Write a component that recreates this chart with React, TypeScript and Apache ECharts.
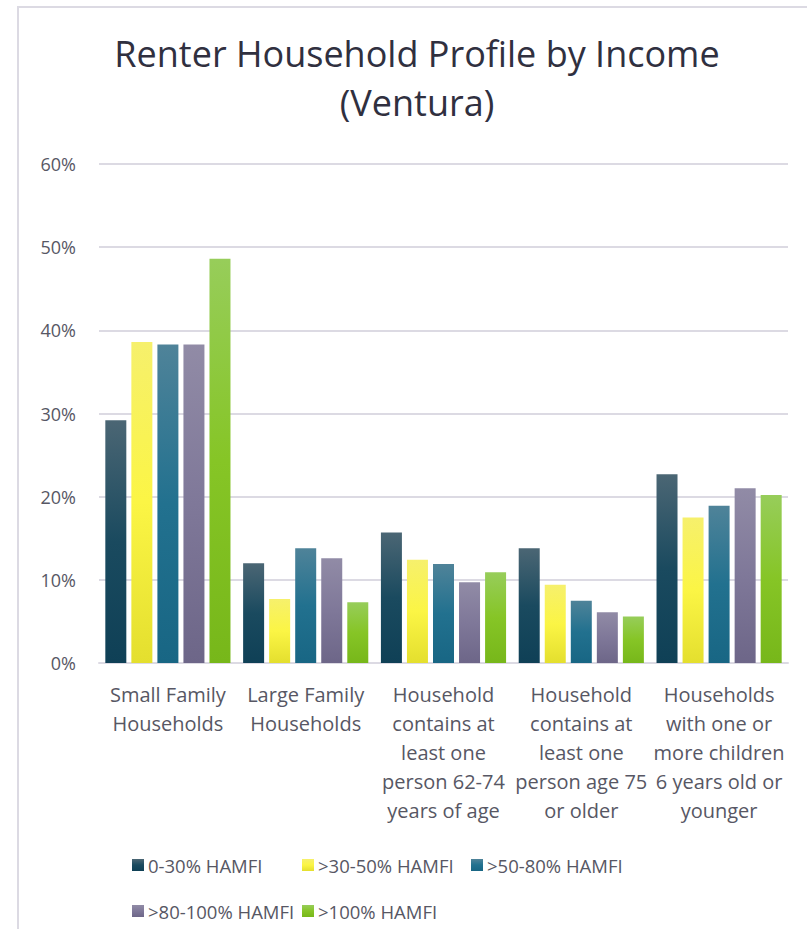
import React, { useEffect, useRef } from "react";
import * as echarts from "echarts";

const categories = [
  "Small Family\nHouseholds",
  "Large Family\nHouseholds",
  "Household\ncontains at\nleast one\nperson 62-74\nyears of age",
  "Household\ncontains at\nleast one\nperson age 75\nor older",
  "Households\nwith one or\nmore children\n6 years old or\nyounger",
];

const seriesNames = ["0-30% HAMFI", ">30-50% HAMFI", ">50-80% HAMFI", ">80-100% HAMFI", ">100% HAMFI"];

const s0_30 = [29.2, 12.0, 15.7, 13.8, 22.7];
const s30_50 = [38.6, 7.7, 12.4, 9.4, 17.5];
const s50_80 = [38.3, 13.8, 11.9, 7.5, 18.9];
const s80_100 = [38.3, 12.6, 9.7, 6.1, 21.0];
const s100 = [48.6, 7.3, 10.9, 5.6, 20.2];

const yTicks = [0, 10, 20, 30, 40, 50, 60];

const seriesValues = [s0_30, s30_50, s50_80, s80_100, s100];

const gradients: [string, string, string][] = [
  ["#4b6674", "#1a4a5f", "#0f4056"],
  ["#f6f06c", "#fbf545", "#e4df2e"],
  ["#4f8399", "#22718f", "#186684"],
  ["#918ba6", "#7f7899", "#6d6688"],
  ["#97cd5a", "#86c526", "#77b71a"],
];

const legendPos = [
  [132, 854],
  [302, 854],
  [471, 854],
  [132, 900],
  [302, 900],
];

const FONT = "'Open Sans', sans-serif";
const TEXT = "#575764";

export default function App() {
  const ref = useRef<HTMLDivElement>(null);
  useEffect(() => {
    if (!ref.current) return;
    const chart = echarts.init(ref.current, undefined, { renderer: "svg" });
    const grad = (c: [string, string, string]) =>
      new echarts.graphic.LinearGradient(0, 0, 0, 1, [
        { offset: 0, color: c[0] },
        { offset: 0.5, color: c[1] },
        { offset: 1, color: c[2] },
      ]);
    chart.setOption({
      animation: false,
      backgroundColor: "#ffffff",
      textStyle: { fontFamily: FONT },
      graphic: [
        {
          type: "text",
          x: 417,
          y: 29,
          style: {
            text: "Renter Household Profile by Income\n(Ventura)",
            font: `36px ${FONT}`,
            fill: "#30303f",
            textAlign: "center",
            textVerticalAlign: "top",
            lineHeight: 49,
          },
        },
        {
          type: "line",
          shape: { x1: 17, y1: 7, x2: 807, y2: 7 },
          style: { stroke: "#dcdae3", lineWidth: 2 },
        },
        {
          type: "line",
          shape: { x1: 18, y1: 6, x2: 18, y2: 929 },
          style: { stroke: "#dcdae3", lineWidth: 2 },
        },
      ],
      legend: seriesNames.map((n, i) => ({
        data: [n],
        left: legendPos[i][0],
        top: legendPos[i][1],
        itemWidth: 12,
        itemHeight: 12,
        itemGap: 0,
        padding: 0,
        icon: "rect",
        textStyle: { fontSize: 18.5, color: TEXT, fontFamily: FONT, lineHeight: 22, padding: [0, 0, 0, -1] },
      })),
      grid: { left: 99, right: 19, top: 164, bottom: 277, containLabel: false },
      xAxis: {
        type: "category",
        data: categories,
        axisLine: { show: true, lineStyle: { color: "#dcdae3", width: 2 } },
        axisTick: { show: false },
        axisLabel: {
          interval: 0,
          margin: 17,
          fontSize: 20,
          lineHeight: 29,
          color: TEXT,
          fontFamily: FONT,
        },
      },
      yAxis: {
        type: "value",
        min: 0,
        max: 60,
        interval: 10,
        axisLine: { show: false },
        axisTick: { show: false },
        splitLine: { lineStyle: { color: "#dcdae3", width: 2 } },
        axisLabel: {
          margin: 23,
          fontSize: 18,
          color: TEXT,
          fontFamily: FONT,
          formatter: (v: number) => (yTicks.includes(v) ? `${v}%` : ""),
        },
      },
      series: seriesNames.map((n, i) => ({
        name: n,
        type: "bar",
        data: seriesValues[i],
        barWidth: 21,
        barGap: "24%",
        itemStyle: { color: grad(gradients[i]) },
      })),
    });
    return () => chart.dispose();
  }, []);
  return <div ref={ref} style={{ position: "fixed", left: 0, top: 0, width: 807, height: 940 }} />;
}
